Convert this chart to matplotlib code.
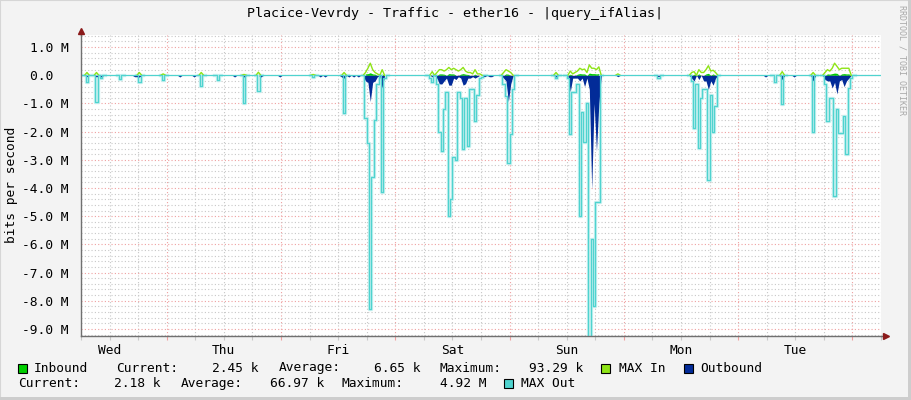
import numpy as np
import matplotlib
matplotlib.use("Agg")
import matplotlib.pyplot as plt
from matplotlib.patches import Rectangle

plt.rcParams['font.family'] = ['DejaVu Sans Mono']

# week graph, one sample every 30 min, starting Wed 06:00
STEP = 0.5
NSAMP = 336

days = ["Wed", "Thu", "Fri", "Sat", "Sun", "Mon", "Tue"]
title = "Placice-Vevrdy - Traffic - ether16 - |query_ifAlias|"

# (hour, Mbit/s) for the non-zero samples
inbound_pts = [(1.0, 0.03), (3.0, 0.04), (12.0, 0.03), (25.0, 0.03), (37.0, 0.04), (55.0, 0.04),
               (59.5, 0.05), (60.0, 0.06), (60.5, 0.09), (61.0, 0.05), (61.5, 0.04), (63.0, 0.05),
               (73.5, 0.04), (75.0, 0.05), (75.5, 0.05), (76.0, 0.04), (77.0, 0.06), (77.5, 0.05),
               (78.0, 0.05), (79.5, 0.04), (80.0, 0.06), (80.5, 0.04), (81.0, 0.03), (82.5, 0.04),
               (89.0, 0.05), (89.5, 0.04), (99.5, 0.03), (102.5, 0.04), (104.0, 0.04), (104.5, 0.06),
               (105.0, 0.05), (105.5, 0.05), (106.5, 0.08), (107.0, 0.06), (107.5, 0.06), (108.0, 0.05),
               (108.5, 0.06), (128.5, 0.04), (129.5, 0.05), (131.0, 0.05), (131.5, 0.07), (132.5, 0.05),
               (147.0, 0.04), (153.5, 0.03), (156.5, 0.05), (157.0, 0.04), (157.5, 0.06), (158.0, 0.08),
               (158.5, 0.07), (159.5, 0.05), (160.0, 0.06), (160.5, 0.05), (161.0, 0.05)]

max_in_pts = [(1.0, 0.1), (3.0, 0.1), (12.0, 0.1), (17.0, 0.05), (25.0, 0.1), (34.0, 0.03),
              (37.0, 0.11), (48.5, 0.03), (55.0, 0.1),
              (59.5, 0.1), (60.0, 0.25), (60.5, 0.43), (61.0, 0.2), (61.5, 0.1), (62.0, 0.05), (63.0, 0.2),
              (73.5, 0.13), (74.5, 0.1), (75.0, 0.2), (75.5, 0.2), (76.0, 0.15), (76.5, 0.2),
              (77.0, 0.28), (77.5, 0.2), (78.0, 0.25), (78.5, 0.2), (79.0, 0.15), (79.5, 0.2),
              (80.0, 0.28), (80.5, 0.15), (81.0, 0.1), (81.5, 0.1), (82.0, 0.05), (82.5, 0.2),
              (83.0, 0.05), (83.5, 0.05),
              (88.5, 0.1), (89.0, 0.2), (89.5, 0.15), (90.0, 0.1),
              (99.5, 0.1), (102.5, 0.15), (103.0, 0.05), (103.5, 0.1), (104.0, 0.15), (104.5, 0.25),
              (105.0, 0.2), (105.5, 0.22), (106.0, 0.1), (106.5, 0.37), (107.0, 0.25), (107.5, 0.25),
              (108.0, 0.2), (108.5, 0.3), (112.5, 0.05),
              (128.0, 0.1), (128.5, 0.13), (129.5, 0.2), (130.0, 0.1), (130.5, 0.1), (131.0, 0.2),
              (131.5, 0.34), (132.0, 0.15), (132.5, 0.18), (133.0, 0.1),
              (147.0, 0.13), (153.5, 0.1),
              (156.0, 0.1), (156.5, 0.2), (157.0, 0.15), (157.5, 0.25), (158.0, 0.43), (158.5, 0.32),
              (159.0, 0.2), (159.5, 0.25), (160.0, 0.25), (160.5, 0.25), (161.0, 0.25)]

outbound_pts = [(1.0, -0.05), (3.0, -0.06), (4.0, -0.06), (11.0, -0.05), (11.5, -0.05), (12.0, -0.06),
                (20.5, -0.06), (23.5, -0.06), (32.0, -0.06), (34.0, -0.06), (37.5, -0.06), (41.5, -0.06),
                (50.0, -0.06), (51.0, -0.06), (54.5, -0.06), (55.0, -0.1), (56.0, -0.06), (57.0, -0.06),
                (58.0, -0.06),
                (59.5, -0.2), (60.0, -0.25), (60.5, -0.93), (61.0, -0.25), (61.5, -0.2), (62.0, -0.05),
                (63.0, -0.45),
                (73.5, -0.05), (74.5, -0.1), (75.0, -0.3), (75.5, -0.31), (76.0, -0.2), (76.5, -0.1),
                (77.0, -0.35), (77.5, -0.35), (78.0, -0.1), (78.5, -0.15), (79.0, -0.05), (79.5, -0.1),
                (80.0, -0.35), (80.5, -0.3), (81.0, -0.1), (81.5, -0.1), (82.0, -0.05), (82.5, -0.1),
                (83.0, -0.05), (84.5, -0.05), (85.5, -0.05), (86.0, -0.05),
                (88.5, -0.1), (89.0, -0.2), (89.5, -0.93), (90.0, -0.3),
                (99.5, -0.06), (102.5, -0.57), (103.0, -0.1), (103.5, -0.1), (104.0, -0.1), (104.5, -0.2),
                (105.0, -0.1), (105.5, -0.4), (106.0, -0.1), (106.5, -0.5), (107.0, -4.05), (107.5, -1.0),
                (108.0, -2.7), (108.5, -1.0), (112.5, -0.05), (121.0, -0.05),
                (128.0, -0.1), (128.5, -0.2), (129.5, -0.15), (130.5, -0.2), (131.0, -0.2), (131.5, -0.5),
                (132.0, -0.2), (132.5, -0.35), (133.0, -0.1),
                (143.5, -0.06), (147.0, -0.15), (149.5, -0.06), (153.5, -0.2),
                (156.0, -0.15), (156.5, -0.2), (157.0, -0.2), (157.5, -0.45), (158.0, -0.25),
                (158.5, -0.66), (159.0, -0.2), (159.5, -0.15), (160.0, -0.4), (160.5, -0.2), (161.0, -0.1)]

max_out_pts = [(1.0, -0.23), (3.0, -0.93), (4.0, -0.1), (8.0, -0.12), (12.0, -0.22), (17.0, -0.18),
               (25.0, -0.37), (28.5, -0.15), (34.0, -1.0), (37.0, -0.54), (48.5, -0.05), (55.0, -1.35),
               (59.5, -1.5), (60.0, -2.4), (60.5, -8.3), (61.0, -3.6), (61.5, -1.6), (62.0, -0.3),
               (63.0, -4.15), (63.5, -0.1),
               (73.0, -0.1), (73.5, -0.25), (74.5, -0.3), (75.0, -2.0), (75.5, -2.7), (76.0, -1.2),
               (76.5, -0.6), (77.0, -5.0), (77.5, -4.4), (78.0, -2.9), (78.5, -3.0), (79.0, -0.6),
               (79.5, -0.8), (80.0, -2.6), (80.5, -0.8), (81.0, -2.5), (81.5, -0.5), (82.0, -0.5),
               (82.5, -1.63), (83.0, -0.7), (83.5, -0.1), (84.0, -0.05),
               (88.5, -0.3), (89.0, -0.75), (89.5, -3.1), (90.0, -2.1), (90.5, -0.5),
               (99.5, -0.1), (102.0, -0.1), (102.5, -2.1), (103.0, -0.6), (103.5, -0.6), (104.0, -0.3),
               (104.5, -5.0), (105.0, -1.3), (105.5, -2.35), (106.0, -1.0), (106.5, -9.3), (107.0, -5.8),
               (107.5, -8.2), (108.0, -4.5), (108.5, -4.5), (121.0, -0.1),
               (128.0, -0.2), (128.5, -1.87), (129.0, -0.3), (129.5, -2.57), (130.0, -0.8), (130.5, -0.5),
               (131.0, -0.5), (131.5, -3.7), (132.0, -0.7), (132.5, -2.0), (133.0, -1.1),
               (145.5, -0.22), (147.0, -1.02), (153.5, -2.0),
               (156.0, -0.3), (156.5, -1.63), (157.0, -0.8), (157.5, -0.8), (158.0, -4.28), (158.5, -1.2),
               (159.0, -2.04), (159.5, -2.04), (160.0, -1.45), (160.5, -2.78), (161.0, -0.45), (161.5, -0.1)]

legend_row1 = [("Inbound", 33.7, 'left'), ("Current:", 116, 'left'), ("2.45 k", 259, 'right'),
               ("Average:", 279, 'left'), ("6.65 k", 420, 'right'), ("Maximum:", 440, 'left'),
               ("93.29 k", 583, 'right'), ("MAX In", 619, 'left'), ("Outbound", 700, 'left')]
legend_row2 = [("Current:", 18.6, 'left'), ("2.18 k", 161, 'right'), ("Average:", 181, 'left'),
               ("66.97 k", 324, 'right'), ("Maximum:", 342, 'left'), ("4.92 M", 486, 'right'),
               ("MAX Out", 521, 'left')]

C_IN = '#00cf00'
C_MAXIN = '#8ee416'
C_OUT = '#022b98'
C_MAXOUT = '#4fd3cf'
C_BAND = '#c4efee'


def series(pts):
    arr = np.zeros(NSAMP)
    for h, v in pts:
        arr[int(round(h / STEP))] = v
    return arr


def near_nonzero(arr):
    # keep zero samples only next to non-zero ones
    keep = np.convolve(arr != 0, [1, 1, 1], mode='same') > 0
    return np.where(keep, arr, np.nan)


inbound = series(inbound_pts)
max_in = series(max_in_pts)
outbound = series(outbound_pts)
max_out = series(max_out_pts)

t_edges = np.arange(NSAMP + 1) * STEP
t_mid = t_edges[:-1] + STEP / 2

W, H = 911, 400
fig = plt.figure(figsize=(9.11, 4.0), dpi=100, facecolor='#f3f3f3')
ax = fig.add_axes([81 / W, (H - 336) / H, 800 / W, 301 / H])
ax.set_facecolor('white')

# data
ax.fill_between(t_mid, inbound, 0, color=C_IN, lw=0, zorder=3)
band = near_nonzero(max_out)
ax.plot(t_edges, np.append(band, band[-1]), drawstyle='steps-post', color=C_BAND, lw=2.4, zorder=3)
ax.fill_between(t_mid, outbound, 0, color=C_OUT, lw=0, zorder=4)
ax.plot(t_mid, near_nonzero(max_in), color=C_MAXIN, lw=1.0, zorder=5)
ax.plot(t_edges, np.append(max_out, max_out[-1]), drawstyle='steps-post', color=C_MAXOUT, lw=0.9, zorder=6)

ax.set_xlim(0, 168)
ax.set_ylim(-9.25, 1.43)

# grid
yt = np.arange(-9, 2)
ax.set_yticks(yt)
ax.set_yticklabels([("%.1f M" % v) if v != 0 else "0.0  " for v in yt])
ymin = [round(v, 1) for v in np.arange(-9.2, 1.45, 0.2) if abs(v - round(v)) > 0.05]
ax.set_yticks(ymin, minor=True)
midnights = list(range(18, 168, 24))
ax.set_xticks(midnights)
ax.set_xticklabels([])
xmin = [h for h in range(0, 169, 6) if h % 24 != 18]
ax.set_xticks(xmin, minor=True)
ax.set_xticklabels([days[(h - 6) // 24] if h % 24 == 6 else "" for h in xmin], minor=True)

dot = (0, (1, 2))
ax.grid(which='minor', color='#c8c8c8', linestyle=dot, lw=0.8, zorder=1)
ax.grid(which='major', color='#efa0a0', linestyle=dot, lw=0.8, zorder=1)
ax.set_axisbelow(True)

ax.tick_params(axis='y', which='both', length=0, pad=9, labelsize=9.3, labelcolor='black')
ax.tick_params(axis='x', which='major', length=3, color='#efa0a0', width=0.8)
ax.tick_params(axis='x', which='minor', length=3, color='#c8c8c8', width=0.8, pad=3,
               labelsize=9.3, labelcolor='black')

for s in ['top', 'right']:
    ax.spines[s].set_visible(False)
for s in ['left', 'bottom']:
    ax.spines[s].set_color('#707070')
    ax.spines[s].set_linewidth(1.0)
    ax.spines[s].set_zorder(7)

# axis arrows
ax.plot([0, 0], [1, 1 + 3 / 301], color='#707070', lw=1, transform=ax.transAxes, clip_on=False)
ax.plot([1, 1 + 4 / 800], [0, 0], color='#707070', lw=1, transform=ax.transAxes, clip_on=False)
ax.plot([0], [1 + 4 / 301], marker='^', ms=4.5, color='#8b1a1a', mec='#8b1a1a',
        transform=ax.transAxes, clip_on=False, zorder=8)
ax.plot([1 + 4.5 / 800], [0], marker='>', ms=4.5, color='#8b1a1a', mec='#8b1a1a',
        transform=ax.transAxes, clip_on=False, zorder=8)

# texts
fig.text(455 / W, 1 - 14 / H, title, ha='center', va='center', fontsize=9.6)
fig.text(12 / W, 1 - 185 / H, "bits per second", rotation=90, ha='center', va='center', fontsize=9.3)
fig.text(902 / W, 1 - 60 / H, "RRDTOOL / TOBI OETIKER", rotation=270, ha='center', va='center',
         fontsize=6, color='#a8a8a8')

# legend
for txt, x, ha in legend_row1:
    fig.text(x / W, 1 - 368 / H, txt, ha=ha, va='center', fontsize=9.3)
for txt, x, ha in legend_row2:
    fig.text(x / W, 1 - 383.5 / H, txt, ha=ha, va='center', fontsize=9.3)
for x, y, c in [(17.5, 368, C_IN), (600.5, 368, C_MAXIN), (683.5, 368, C_OUT), (503.5, 383.5, C_MAXOUT)]:
    fig.add_artist(Rectangle((x / W, 1 - (y + 4.5) / H), 9 / W, 9 / H, transform=fig.transFigure,
                             facecolor=c, edgecolor='black', lw=0.8))

# frame
fig.add_artist(Rectangle((0, 0), 1, 1, transform=fig.transFigure, fill=False, edgecolor='#d6d6d6', lw=1.5))
fig.add_artist(Rectangle((908 / W, 0), 3 / W, 1, transform=fig.transFigure, facecolor='#cdcdcd', lw=0))
fig.add_artist(Rectangle((0, 0), 1, 3 / H, transform=fig.transFigure, facecolor='#cdcdcd', lw=0))

fig.savefig("out.png", dpi=100, facecolor=fig.get_facecolor())
